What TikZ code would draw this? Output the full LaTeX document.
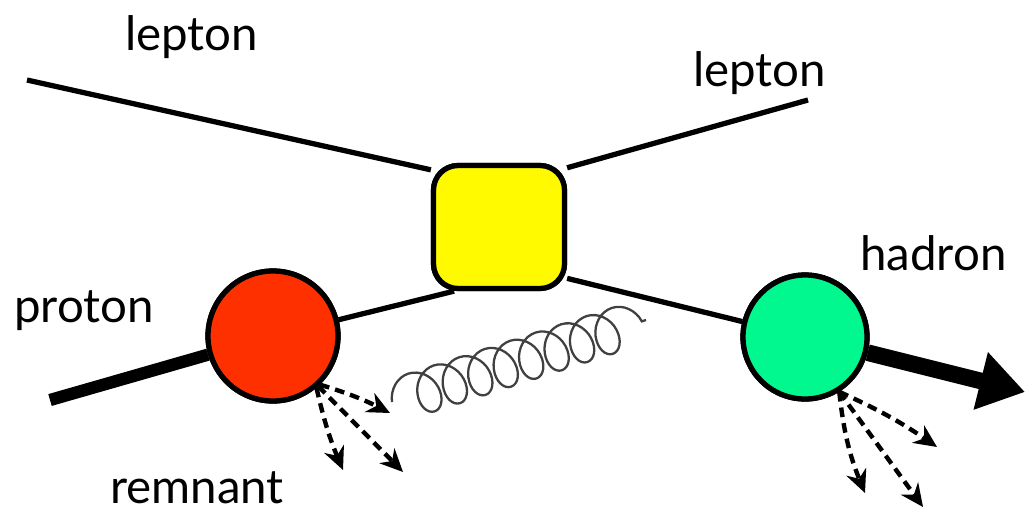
\documentclass[tikz,border=0pt]{standalone}
\usepackage{fontspec}
\setmainfont{Lato}
\usetikzlibrary{arrows.meta,decorations.pathmorphing}
\definecolor{boxyellow}{RGB}{255,250,0}
\definecolor{protred}{RGB}{255,48,0}
\definecolor{hadgreen}{RGB}{0,248,142}
\begin{document}
\begin{tikzpicture}[x=0.02cm,y=-0.02cm,
  lbl/.style={font=\fontsize{27}{30}\selectfont,anchor=base west,inner sep=0pt},
  thinline/.style={line width=3pt},
  blob/.style={draw,line width=3pt,inner sep=0pt},
  dasharrow/.style={line width=2.5pt,dash pattern=on 5.5pt off 3.5pt,-{Stealth[length=13pt,width=12pt]}},
  gluon/.style={decorate,decoration={coil,amplitude=0.44cm,segment length=0.535cm,aspect=0.8},line width=1.3pt,draw=black!75}
]
\useasboundingbox (0,0) rectangle (1026,511);
% nodes
\node[blob,fill=boxyellow,rounded corners=14pt,minimum width=2.62cm,minimum height=2.46cm] (box) at (499,227) {};
\node[blob,circle,fill=protred,minimum size=2.6cm] (red) at (273,336) {};
\node[blob,circle,fill=hadgreen,minimum size=2.48cm] (green) at (805,337) {};
\coordinate (lin) at (27,80);
\coordinate (lout) at (808,100);
\coordinate (pin) at (50,400);
\coordinate (hout) at (1025,392);
\coordinate (g1) at (392,402);
\coordinate (g2) at (646,320);
\coordinate (ra) at (390,413);
\coordinate (rb) at (343,470);
\coordinate (rc) at (403,472);
\coordinate (ga) at (937,447);
\coordinate (gb) at (865,493);
\coordinate (gc) at (923,507);
% lines
\draw[thinline] (lin) -- (box.140);
\draw[thinline] (box.41) -- (lout);
\draw[thinline] (red) -- (box.235);
\draw[thinline] (box.-37) -- (green);
\draw[line width=7pt] (pin) -- (red);
\draw[line width=9.5pt,-{Triangle[length=26pt,width=32pt]}] (green) -- (hout);
\draw[gluon] (g1) -- (g2);
% redraw nodes on top
\node[blob,fill=boxyellow,rounded corners=14pt,minimum width=2.62cm,minimum height=2.46cm] at (box) {};
\node[blob,circle,fill=protred,minimum size=2.6cm] at (red) {};
\node[blob,circle,fill=hadgreen,minimum size=2.48cm] at (green) {};
% dashed arrows
\draw[dasharrow] (red.-46) to[bend left=5] (ra);
\draw[dasharrow] (red.-50) to[bend right=5] (rb);
\draw[dasharrow] (red.-48) to (rc);
\draw[dasharrow] (green.-58) to[bend left=5] (ga);
\draw[dasharrow] (green.-58) to[bend right=8] (gb);
\draw[dasharrow] (green.-58) to (gc);
% labels
\node[lbl] (t1) at (125,50) {lepton};
\node[lbl] (t2) at (693,86) {lepton};
\node[lbl] (t3) at (860,270) {hadron};
\node[lbl] (t4) at (14,322) {proton};
\node[lbl] (t5) at (110,503) {remnant};
\end{tikzpicture}
\end{document}
